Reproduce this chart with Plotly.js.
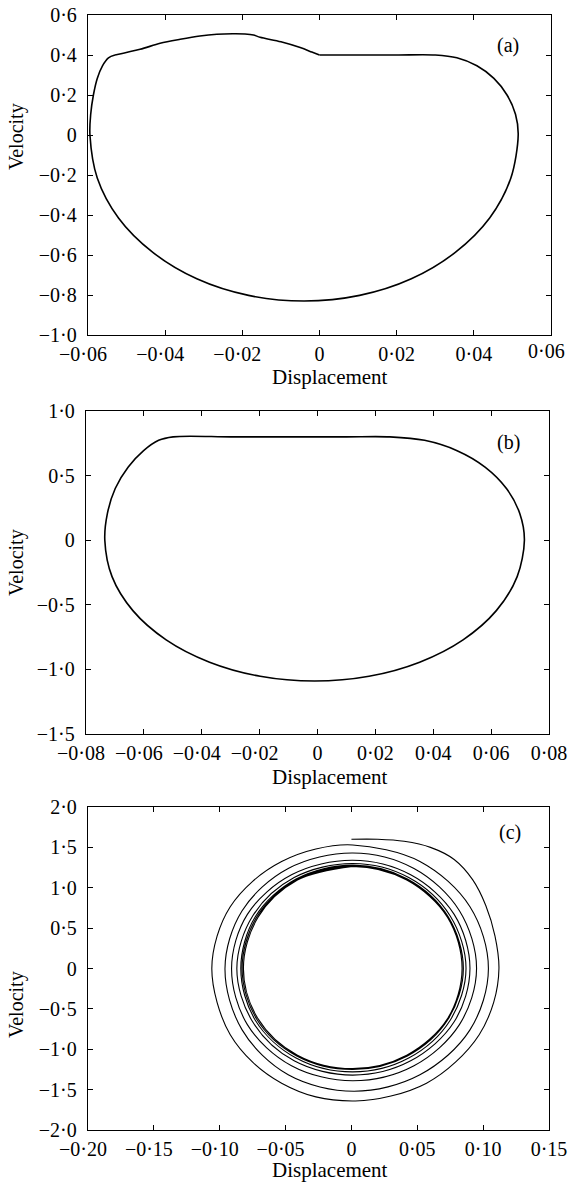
<!DOCTYPE html>
<html><head><meta charset="utf-8">
<script src="https://cdn.plot.ly/plotly-3.0.1.min.js"></script>
<style>html,body{margin:0;padding:0;background:#fff}#chart{width:568px;height:1182px}</style>
</head><body><div id="chart"></div>
<script>
// ---- Panel (a) limit cycle (null = corner in the trajectory) ----
const aX = [0.000,0.010,0.020,0.030,0.0356,0.0408,0.0452,0.0486,0.0508,0.0515,
  0.0496,0.0441,0.0352,0.0238,0.0104,-0.004,-0.0184,-0.0318,-0.0432,-0.0521,-0.0576,-0.0595,
  -0.0593,-0.0586,-0.0576,-0.05625,-0.0547,-0.053,null,
  -0.053,-0.0465,-0.0413,-0.0361,-0.031,-0.0266,-0.0225,-0.0193,-0.0171,-0.0154,-0.010,-0.005,-0.002,0.000];
const aV = [0.400,0.400,0.400,0.400,0.386,0.346,0.283,0.200,0.1035,0.000,
  -0.215,-0.415,-0.587,-0.719,-0.802,-0.830,-0.802,-0.719,-0.587,-0.415,-0.215,0.000,
  0.1035,0.200,0.283,0.346,0.386,0.400,null,
  0.400,0.4285,0.4585,0.4785,0.495,0.5035,0.506,0.505,0.500,0.4885,0.466,0.437,0.415,0.400];

// ---- Panel (b) ----
const bX = [-0.0499,-0.030,-0.010,0.010,0.025,0.037,0.04825,0.0579,0.0653,0.0699,0.0715,
  0.0690,0.0618,0.0503,0.0353,0.0178,-0.001,-0.0198,-0.0373,-0.0523,-0.0638,-0.0710,-0.0735,
  -0.0726,-0.0699,-0.0654,-0.0601,-0.0549,-0.0499];
const bV = [0.800,0.800,0.800,0.800,0.800,0.773,0.693,0.566,0.400,0.207,0.000,
  -0.282,-0.545,-0.771,-0.944,-1.053,-1.090,-1.053,-0.944,-0.771,-0.545,-0.282,0.000,
  0.207,0.400,0.566,0.693,0.773,0.800];

// ---- Panel (c) decaying spiral towards a limit cycle ----
const cX = [0.000,0.020,0.040,0.060,0.078,0.092,0.102,0.109,0.112,
  0.108,0.097,0.079,0.057,0.030,0.003,-0.027,-0.053,-0.075,-0.092,-0.102,-0.106,
  -0.102,-0.092,-0.075,-0.053,-0.027,0.001,0.052,0.090,0.104,
  0.090,0.052,0.002,-0.048,-0.083,-0.096,
  -0.083,-0.048,0.001,0.0475,0.082,0.095,
  0.082,0.0475,0.001,-0.0455,-0.079,-0.091,
  -0.079,-0.0455,0.001,0.045,0.078,0.090,
  0.078,0.045,0.001,-0.0435,-0.075,-0.087,
  -0.075,-0.0435,0.001,0.0435,0.075,0.087,
  0.075,0.0435,0.001,-0.042,-0.073,-0.084,
  -0.073,-0.042,0.001,0.0425,0.0735,0.085,
  0.0735,0.0425,0.001,-0.0415,-0.072,-0.083,
  -0.072,-0.0415,0.001,0.042,0.073,0.084,
  0.073,0.042,0.001,-0.041,-0.071,-0.082,
  -0.071,-0.041,0.001,0.042,0.073,0.084,
  0.073,0.042,0.001,-0.041,-0.071,-0.082,
  -0.071,-0.041,0.001];
const cV = [1.600,1.600,1.575,1.500,1.350,1.100,0.780,0.400,0.000,
  -0.420,-0.820,-1.160,-1.420,-1.580,-1.640,-1.590,-1.420,-1.160,-0.820,-0.420,0.000,
  0.400,0.765,1.080,1.325,1.480,1.530,1.325,0.765,0.000,
  -0.760,-1.316,-1.520,-1.316,-0.760,0.000,
  0.715,1.238,1.430,1.238,0.715,0.000,
  -0.695,-1.204,-1.390,-1.204,-0.695,0.000,
  0.670,1.160,1.340,1.160,0.670,0.000,
  -0.660,-1.143,-1.320,-1.143,-0.660,0.000,
  0.650,1.126,1.300,1.126,0.650,0.000,
  -0.640,-1.108,-1.280,-1.108,-0.640,0.000,
  0.640,1.108,1.280,1.108,0.640,0.000,
  -0.625,-1.083,-1.250,-1.083,-0.625,0.000,
  0.635,1.100,1.270,1.100,0.635,0.000,
  -0.620,-1.074,-1.240,-1.074,-0.620,0.000,
  0.632,1.095,1.265,1.095,0.632,0.000,
  -0.620,-1.074,-1.240,-1.074,-0.620,0.000,
  0.632,1.095,1.265];

// ---- tick values / labels ----
const aXTicks = [-0.06,-0.04,-0.02,0,0.02,0.04,0.06];
const aXLabels = ['\u22120·06\u2002','\u22120·04\u2002','\u22120·02\u2002','0','0·02','0·04',''];
const aXLastLabel = '0·06';
const aYTicks = [0.6,0.4,0.2,0,-0.2,-0.4,-0.6,-0.8,-1.0];
const aYLabels = ['0·6','0·4','0·2','0','\u22120·2','\u22120·4','\u22120·6','\u22120·8','\u22121·0'];
const bXTicks = [-0.08,-0.06,-0.04,-0.02,0,0.02,0.04,0.06,0.08];
const bXLabels = ['\u22120·08\u2002','\u22120·06\u2002','\u22120·04\u2002','\u22120·02\u2002','0','0·02','0·04','0·06','0·08'];
const bYTicks = [1.0,0.5,0,-0.5,-1.0,-1.5];
const bYLabels = ['1·0','0·5','0','\u22120·5','\u22121·0','\u22121·5'];
const cXTicks = [-0.20,-0.15,-0.10,-0.05,0,0.05,0.10,0.15];
const cXLabels = ['\u22120·20\u2002','\u22120·15\u2002','\u22120·10\u2002','\u22120·05\u2002','0','0·05','0·10','0·15'];
const cYTicks = [2.0,1.5,1.0,0.5,0,-0.5,-1.0,-1.5,-2.0];
const cYLabels = ['2·0','1·5','1·0','0·5','0','\u22120·5','\u22121·0','\u22121·5','\u22122·0'];
const panelLabels = ['(a)','(b)','(c)'];
const xTitle = 'Displacement', yTitle = 'Velocity';

const W = 568, H = 1182;
const FONT = 'Liberation Serif, Times New Roman, serif';
function xd(l, r){ return [l/W, r/W]; }
function yd(t, b){ return [1-b/H, 1-t/H]; }
function common(){ return {tickmode:'array', ticks:'inside', ticklen:5, tickwidth:1, tickcolor:'#000',
    showline:true, linecolor:'#000', linewidth:1.2, mirror:'ticks', showgrid:false, zeroline:false,
    tickangle:0, tickfont:{family:FONT,size:20,color:'#000'}}; }
function xaxis(dom, anchor, rng, tv, tt){
  return Object.assign(common(), {domain: dom, anchor: anchor, range: rng, tickvals: tv, ticktext: tt, ticklabelstandoff:1});
}
function yaxis(dom, anchor, rng, tv, tt){
  return Object.assign(common(), {domain: dom, anchor: anchor, range: rng, tickvals: tv, ticktext: tt, ticklabelstandoff:6});
}
const lineStyle = {color:'#000', width:1.6, shape:'spline', smoothing:0.9};
const traces = [
  {x:aX, y:aV, xaxis:'x', yaxis:'y', mode:'lines', line:lineStyle, hoverinfo:'skip', connectgaps:false},
  {x:bX, y:bV, xaxis:'x2', yaxis:'y2', mode:'lines', line:lineStyle, hoverinfo:'skip'},
  {x:cX, y:cV, xaxis:'x3', yaxis:'y3', mode:'lines', line:{color:'#000', width:1.1, shape:'spline', smoothing:1}, hoverinfo:'skip'}
];
function ann(text, x, y, extra){
  return Object.assign({text:text, xref:'paper', yref:'paper', x:x/W, y:1-y/H, xanchor:'center', yanchor:'middle',
    showarrow:false, font:{family:FONT,size:20,color:'#000'}}, extra||{});
}
const layout = {
  width:W, height:H, margin:{l:0,r:0,t:0,b:0}, showlegend:false,
  paper_bgcolor:'#fff', plot_bgcolor:'#fff', font:{family:FONT, color:'#000'},
  xaxis: xaxis(xd(88,551),'y',[-0.06,0.06],aXTicks,aXLabels),
  yaxis: yaxis(yd(15,335),'x',[-1.0,0.6],aYTicks,aYLabels),
  xaxis2: xaxis(xd(86,549),'y2',[-0.08,0.08],bXTicks,bXLabels),
  yaxis2: yaxis(yd(411,734),'x2',[-1.5,1.0],bYTicks,bYLabels),
  xaxis3: xaxis(xd(88,549),'y3',[-0.20,0.15],cXTicks,cXLabels),
  yaxis3: yaxis(yd(807,1130),'x3',[-2.0,2.0],cYTicks,cYLabels),
  annotations: [
    ann(aXLastLabel, 546, 351),
    ann(panelLabels[0], 508, 45), ann(panelLabels[1], 508, 442), ann(panelLabels[2], 510, 832),
    ann(xTitle, 330, 377, {font:{family:FONT,size:21,color:'#000'}}),
    ann(xTitle, 330, 777, {font:{family:FONT,size:21,color:'#000'}}),
    ann(xTitle, 330, 1170, {font:{family:FONT,size:21,color:'#000'}}),
    ann(yTitle, 16, 137, {textangle:-90}),
    ann(yTitle, 16, 563, {textangle:-90}),
    ann(yTitle, 16, 1005, {textangle:-90})
  ]
};
Plotly.newPlot('chart', traces, layout, {staticPlot:true, displayModeBar:false});
</script></body></html>
